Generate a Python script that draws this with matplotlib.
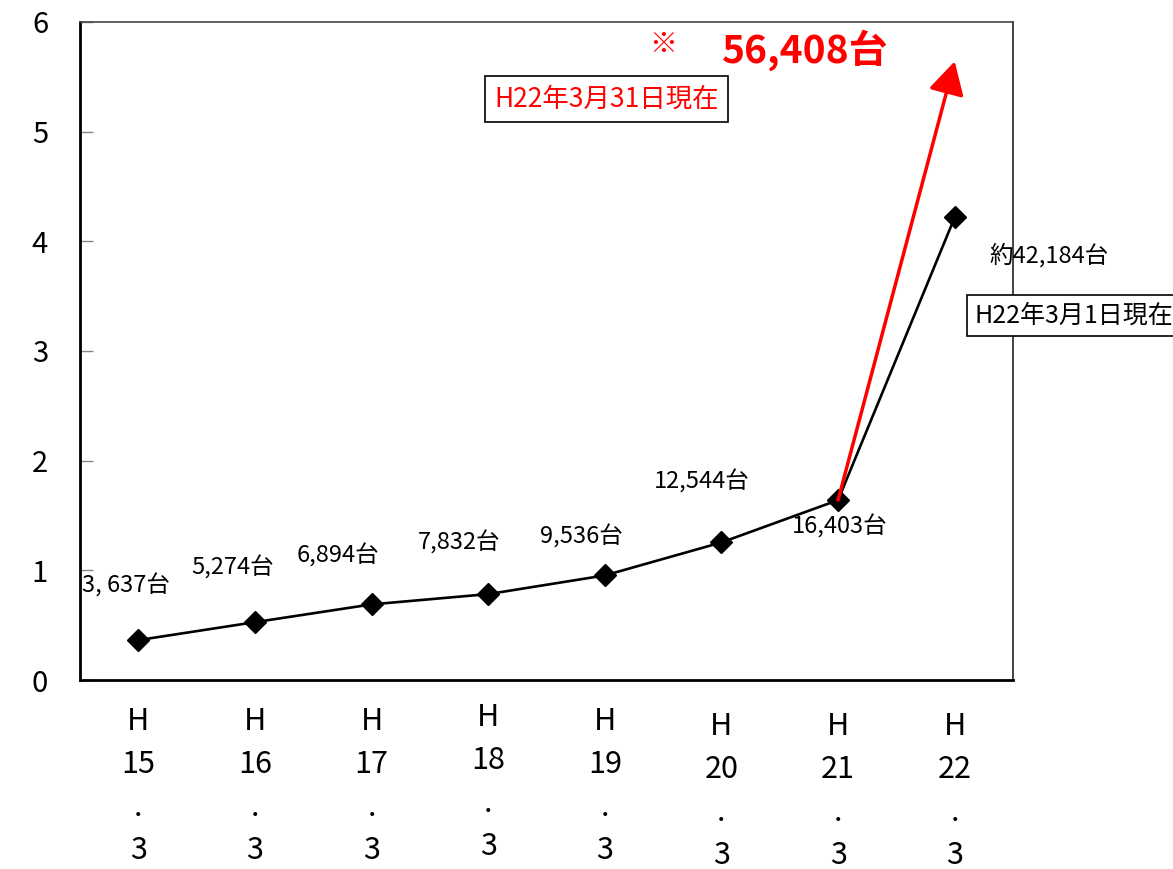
import matplotlib
matplotlib.use("Agg")
import matplotlib.pyplot as plt

plt.rcParams['font.family'] = ['Noto Sans CJK JP', 'DejaVu Sans']

# data (unit: 10,000 vehicles)
years = ['H\n15\n.\n3', 'H\n16\n.\n3', 'H\n17\n.\n3', 'H\n18\n.\n3',
         'H\n19\n.\n3', 'H\n20\n.\n3', 'H\n21\n.\n3', 'H\n22\n.\n3']
counts = [3637, 5274, 6894, 7832, 9536, 12544, 16403, 42184]
count_labels = ['3, 637台', '5,274台', '6,894台', '7,832台', '9,536台',
                '12,544台', '16,403台', '約42,184台']
latest_count = 56408
values = [c / 10000 for c in counts]

# label offsets in points (dx, dy) from each marker
offsets = [(-9, 39), (-16, 39), (-24, 35), (-21, 37), (-17, 28), (-14, 44), (1, -19), (68, -27)]
tick_pads = [19, 19, 19, 16, 19, 22, 22, 22]

fig = plt.figure(figsize=(11.73, 8.69), dpi=100)
ax = fig.add_axes([80 / 1173, 1 - 680 / 869, 933 / 1173, 658 / 869])

x = [i + 0.5 for i in range(len(values))]
ax.plot(x, values, color='black', lw=1.9, marker='D', markersize=11, zorder=3)

# red arrow: H21 -> latest count
ax.annotate('', xy=(x[-1], latest_count / 10000), xytext=(x[-2], values[-2]),
            arrowprops=dict(arrowstyle='-|>,head_length=1.0,head_width=0.55',
                            color='red', lw=2.5, mutation_scale=20,
                            shrinkA=0, shrinkB=0), zorder=4)

for xi, v, lab, (dx, dy) in zip(x, values, count_labels, offsets):
    ax.annotate(lab, xy=(xi, v), xytext=(dx, dy), textcoords='offset points',
                ha='center', va='center', fontsize=17, zorder=5)

ax.annotate('H22年3月1日現在', xy=(x[-1], values[-1]), xytext=(14, -71),
            textcoords='offset points', ha='left', va='center', fontsize=18,
            bbox=dict(boxstyle='square,pad=0.3', fc='white', ec='black', lw=1.2),
            annotation_clip=False, zorder=6)

ax.text(0.564, 0.883, 'H22年3月31日現在', transform=ax.transAxes, ha='center', va='center',
        fontsize=19, color='red',
        bbox=dict(boxstyle='square,pad=0.35', fc='white', ec='black', lw=1.2))
ax.text(0.625, 0.965, '※', transform=ax.transAxes, ha='center', va='center',
        fontsize=20, color='red', fontweight='bold')
ax.text(0.777, 0.958, f'{latest_count:,}台', transform=ax.transAxes, ha='center', va='center',
        fontsize=28, color='red', fontweight='bold')

ax.set_xlim(0, len(values))
ax.set_ylim(0, 6)
ax.set_yticks(range(7))
ax.tick_params(axis='y', direction='in', length=9, width=1, color='#888888',
               labelsize=21, pad=23)
ax.set_xticks(x)
ax.set_xticklabels(years, fontsize=22, linespacing=1.5, va='top')
ax.tick_params(axis='x', length=0)
for t, p in zip(ax.xaxis.get_major_ticks(), tick_pads):
    t.set_pad(p)

ax.spines['left'].set_linewidth(2)
ax.spines['bottom'].set_linewidth(2)
ax.spines['top'].set_linewidth(1.2)
ax.spines['top'].set_color('#444444')
ax.spines['right'].set_linewidth(1.2)
ax.spines['right'].set_color('#222222')

fig.savefig('out.png', dpi=100)
